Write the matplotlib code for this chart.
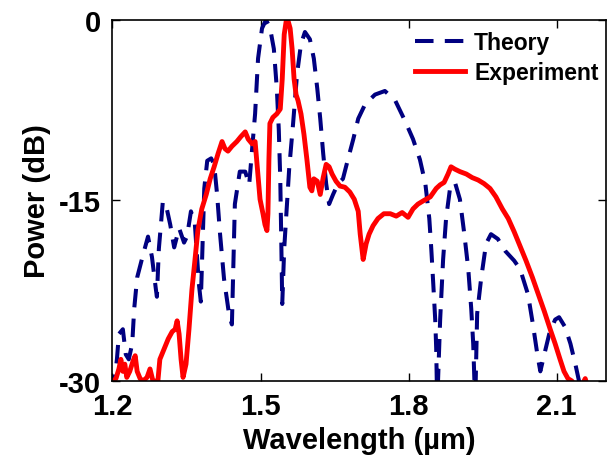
import matplotlib.pyplot as plt

plt.rcParams['font.family'] = ['Liberation Sans', 'DejaVu Sans']
plt.rcParams['font.weight'] = 'bold'
plt.rcParams['axes.unicode_minus'] = False

# theory (dashed) - wavelength in um, power in dB
theory_wl = [1.201, 1.209, 1.213, 1.221, 1.227, 1.233, 1.240, 1.244, 1.250, 1.262,
             1.272, 1.280, 1.288, 1.290, 1.294, 1.300, 1.302, 1.308, 1.317, 1.325,
             1.335, 1.345, 1.351, 1.359, 1.367, 1.375, 1.379, 1.386, 1.392, 1.400,
             1.406, 1.412, 1.418, 1.426, 1.436, 1.442, 1.448, 1.458, 1.469, 1.477,
             1.483, 1.489, 1.495, 1.503, 1.511, 1.519, 1.527, 1.533, 1.537, 1.540,
             1.542, 1.544, 1.548, 1.558, 1.566, 1.574, 1.582, 1.590, 1.600, 1.608,
             1.615, 1.621, 1.627, 1.633, 1.639, 1.647, 1.657, 1.667, 1.677, 1.688,
             1.698, 1.712, 1.732, 1.752, 1.773, 1.793, 1.809, 1.823, 1.834, 1.842,
             1.846, 1.850, 1.854, 1.856, 1.858, 1.864, 1.870, 1.876, 1.884, 1.894,
             1.904, 1.913, 1.921, 1.927, 1.931, 1.935, 1.939, 1.947, 1.957, 1.967,
             1.981, 1.996, 2.014, 2.026, 2.042, 2.052, 2.061, 2.067, 2.075, 2.085,
             2.097, 2.105, 2.117, 2.128, 2.138, 2.148]
theory_db = [-31.0, -28.2, -26.1, -25.7, -27.8, -28.2, -26.9, -24.0, -21.4, -19.5,
             -18.0, -19.7, -22.4, -23.0, -19.0, -16.1, -15.1, -15.3, -17.0, -18.9,
             -17.3, -18.5, -18.0, -15.9, -17.0, -21.9, -23.4, -14.0, -11.7, -11.5,
             -12.0, -14.5, -17.8, -21.5, -24.4, -25.3, -15.3, -12.6, -12.6, -13.7,
             -10.7, -7.8, -3.2, -0.7, 0.0, -0.6, -2.4, -5.7, -9.1, -13.2,
             -18.2, -23.6, -19.0, -12.4, -8.6, -4.5, -2.0, -1.0, -1.6, -3.2,
             -5.7, -8.2, -11.1, -13.6, -15.3, -14.5, -13.6, -13.2, -11.6, -9.9,
             -8.2, -7.0, -6.2, -5.9, -6.7, -8.4, -9.9, -11.6, -13.6, -16.5,
             -19.0, -21.9, -24.9, -27.3, -32.0, -24.9, -19.9, -16.5, -14.0, -13.5,
             -14.9, -17.8, -20.7, -24.0, -26.9, -32.0, -24.4, -21.5, -18.6, -17.8,
             -18.2, -19.2, -20.0, -20.7, -22.8, -25.3, -27.8, -29.2, -27.8, -26.1,
             -24.9, -24.7, -25.5, -26.9, -28.6, -30.5]

# experiment (solid red)
exp_wl = [1.201, 1.207, 1.213, 1.217, 1.221, 1.225, 1.229, 1.235, 1.242, 1.246,
          1.250, 1.256, 1.262, 1.270, 1.276, 1.282, 1.292, 1.296, 1.304, 1.313,
          1.321, 1.327, 1.331, 1.335, 1.339, 1.343, 1.349, 1.355, 1.361, 1.367,
          1.373, 1.381, 1.390, 1.398, 1.406, 1.414, 1.422, 1.428, 1.434, 1.442,
          1.452, 1.460, 1.469, 1.475, 1.483, 1.489, 1.493, 1.499, 1.505, 1.509,
          1.513, 1.515, 1.517, 1.519, 1.525, 1.533, 1.540, 1.544, 1.548, 1.552,
          1.556, 1.560, 1.564, 1.568, 1.572, 1.576, 1.582, 1.588, 1.594, 1.600,
          1.604, 1.608, 1.615, 1.621, 1.627, 1.633, 1.639, 1.645, 1.653, 1.661,
          1.671, 1.681, 1.690, 1.698, 1.702, 1.708, 1.714, 1.720, 1.728, 1.738,
          1.750, 1.763, 1.775, 1.787, 1.799, 1.809, 1.819, 1.831, 1.844, 1.856,
          1.864, 1.872, 1.880, 1.886, 1.894, 1.904, 1.917, 1.929, 1.941, 1.953,
          1.965, 1.977, 1.990, 2.002, 2.014, 2.026, 2.038, 2.051, 2.063, 2.075,
          2.087, 2.097, 2.107, 2.115, 2.123, 2.131, 2.144, 2.158, 2.166]
exp_db = [-30.0, -29.8, -29.0, -28.2, -29.2, -28.6, -29.7, -29.2, -28.3, -27.9,
          -29.2, -29.8, -30.0, -29.7, -29.0, -30.0, -30.0, -28.2, -27.4, -26.5,
          -25.9, -25.7, -25.0, -26.1, -28.2, -29.7, -28.6, -25.7, -22.4, -20.0,
          -17.5, -15.7, -14.5, -13.2, -12.2, -11.1, -10.1, -10.7, -10.9, -10.5,
          -10.1, -9.7, -9.3, -9.9, -10.3, -10.1, -12.0, -14.9, -16.1, -17.0,
          -17.5, -16.1, -11.6, -8.6, -8.1, -7.8, -7.4, -4.9, -1.2, -0.1,
          -0.1, -0.7, -2.4, -4.9, -6.2, -6.7, -7.8, -9.5, -11.6, -13.9,
          -14.2, -13.2, -13.4, -14.5, -13.1, -12.0, -12.2, -12.8, -13.4, -13.8,
          -13.9, -14.3, -14.9, -15.9, -17.8, -19.9, -18.6, -17.8, -17.1, -16.5,
          -16.1, -16.1, -16.3, -16.0, -16.4, -15.7, -15.3, -15.0, -14.7, -14.0,
          -13.7, -13.5, -12.8, -12.2, -12.4, -12.6, -12.8, -13.1, -13.3, -13.6,
          -14.0, -14.7, -15.7, -16.5, -17.6, -18.8, -20.0, -21.4, -22.8, -24.2,
          -25.7, -26.9, -28.2, -29.2, -29.8, -30.0, -31.0, -29.8, -31.0]

fig = plt.figure(figsize=(6.14, 4.56), dpi=100)
ax = fig.add_axes([0.1832, 0.1623, 0.8037, 0.7917])

ax.plot(theory_wl, theory_db, color='#000080', lw=2.9, dashes=(4.6, 2.8), label='Theory')
ax.plot(exp_wl, exp_db, color='#ff0000', lw=3.5, label='Experiment')

ax.set_xlim(1.2, 2.2)
ax.set_ylim(-30, 0)
ax.set_xticks([1.2, 1.5, 1.8, 2.1])
ax.set_xticklabels(['1.2', '1.5', '1.8', '2.1'])
ax.set_yticks([-30, -15, 0])
ax.set_yticklabels(['-30', '-15', '0'])
ax.tick_params(direction='in', top=True, right=True, length=6, width=1,
               labelsize=21, pad=8)
for s in ax.spines.values():
    s.set_linewidth(1.2)

ax.set_xlabel('Wavelength (\u00b5m)', fontsize=21, fontweight='bold', labelpad=4)
ax.set_ylabel('Power (dB)', fontsize=21, fontweight='bold', labelpad=6)

ax.legend(loc='upper left', bbox_to_anchor=(0.603, 0.981), frameon=False,
          prop={'size': 16.5, 'weight': 'bold'}, handlelength=2.2,
          handletextpad=0.4, borderpad=0.2, borderaxespad=0, labelspacing=0.3)

plt.savefig('out.png', dpi=100)
